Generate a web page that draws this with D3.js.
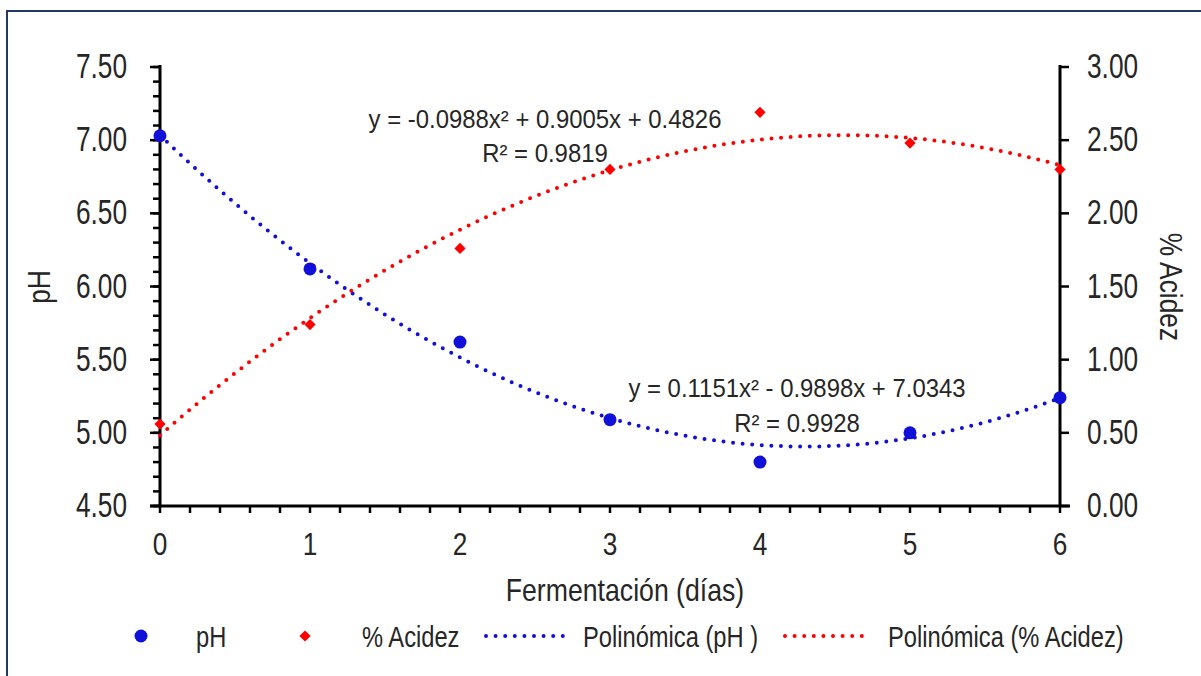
<!DOCTYPE html>
<html>
<head>
<meta charset="utf-8">
<script src="https://cdn.jsdelivr.net/npm/d3@7"></script>
<style>
  body { margin: 0; background: #fff; }
  svg text { font-family: "Liberation Sans Narrow", "Arial Narrow", "Liberation Sans", Arial, sans-serif; fill: #262626; }
</style>
</head>
<body>
<div id="graph"></div>
<script>
// data
var days = [0, 1, 2, 3, 4, 5, 6]
var phValues = [7.03, 6.12, 5.62, 5.09, 4.80, 5.00, 5.24]
var acidValues = [0.56, 1.24, 1.76, 2.30, 2.69, 2.48, 2.30]

// trendline coefficients printed on the chart [a, b, c] for a*x^2 + b*x + c
var phFit = [0.1151, -0.9898, 7.0343]
var acidFit = [-0.0988, 0.9005, 0.4826]
var phLabel = ['y = 0.1151x² - 0.9898x + 7.0343', 'R² = 0.9928']
var acidLabel = ['y = -0.0988x² + 0.9005x + 0.4826', 'R² = 0.9819']

var leftTicks = [4.5, 5, 5.5, 6, 6.5, 7, 7.5]
var rightTicks = [0, 0.5, 1, 1.5, 2, 2.5, 3]

var blue = '#1010d8', red = '#ff0000'

var W = 1201, H = 676
var svg = d3.select('#graph').append('svg').attr('width', W).attr('height', H)

// no narrow font installed, so squeeze the regular one horizontally
function ntext(parent, x, y, str, size, sx, extra){
  return parent.append('text')
    .attr('transform', `translate(${x},${y})` + (extra || '') + ` scale(${sx},1)`)
    .style('font-size', size + 'px')
    .text(str)
}

// outer frame
svg.append('rect').attr('x', 7).attr('y', 11).attr('width', 1200).attr('height', 700)
  .attr('fill', 'none').attr('stroke', '#1f3864').attr('stroke-width', 2)

var x = d3.scaleLinear().domain([0, 6]).range([160, 1060])
var yL = d3.scaleLinear().domain([4.5, 7.5]).range([506, 67])
var yR = d3.scaleLinear().domain([0, 3]).range([506, 67])

var fmt = d3.format('.2f')
var poly = (c, t) => c[0]*t*t + c[1]*t + c[2]

// ticks
var g = svg.append('g').attr('stroke', '#000').attr('stroke-width', 2.5)
g.selectAll('.lm').data(d3.range(45, 76).map(d => d/10)).join('line')
  .attr('x1', 153).attr('x2', 160).attr('y1', d => yL(d)).attr('y2', d => yL(d))
g.selectAll('.lM').data(leftTicks).join('line')
  .attr('x1', 150).attr('x2', 160).attr('y1', d => yL(d)).attr('y2', d => yL(d))
g.selectAll('.xm').data(d3.range(0, 31).map(d => d/5)).join('line')
  .attr('x1', d => x(d)).attr('x2', d => x(d)).attr('y1', 506).attr('y2', 513)
g.selectAll('.rm').data(rightTicks).join('line')
  .attr('x1', 1060).attr('x2', 1069).attr('y1', d => yR(d)).attr('y2', d => yR(d))

// axis lines
var ax = svg.append('g').attr('stroke', '#000').attr('stroke-width', 3)
ax.append('line').attr('x1', 160).attr('x2', 160).attr('y1', 65).attr('y2', 507)
ax.append('line').attr('x1', 1060).attr('x2', 1060).attr('y1', 65).attr('y2', 507)
ax.append('line').attr('x1', 150).attr('x2', 1070).attr('y1', 506).attr('y2', 506)

// tick labels
leftTicks.forEach(d => ntext(svg, 127, yL(d) + 11, fmt(d), 35, 0.75).attr('text-anchor', 'end'))
rightTicks.forEach(d => ntext(svg, 1087, yR(d) + 11, fmt(d), 35, 0.75))
days.forEach(d => ntext(svg, x(d), 555, d, 32, 0.82).attr('text-anchor', 'middle'))

// axis titles
ntext(svg, 50, 287, 'pH', 31, 0.85, ' rotate(-90)').attr('text-anchor', 'middle')
ntext(svg, 1160, 287, '% Acidez', 31, 0.85, ' rotate(90)').attr('text-anchor', 'middle')
ntext(svg, 625, 601, 'Fermentación (días)', 31, 0.86).attr('text-anchor', 'middle')

// trendlines
var ts = d3.range(0, 6.001, 0.02)
var dotted = sel => sel.attr('fill', 'none').attr('stroke-width', 4)
  .attr('stroke-linecap', 'round').attr('stroke-dasharray', '0 9.6')
svg.append('path').datum(ts)
  .attr('d', d3.line().x(t => x(t)).y(t => yL(poly(phFit, t))))
  .attr('stroke', blue).call(dotted)
svg.append('path').datum(ts)
  .attr('d', d3.line().x(t => x(t)).y(t => yR(poly(acidFit, t))))
  .attr('stroke', red).call(dotted)

// markers
svg.selectAll('.ph').data(days).join('circle')
  .attr('cx', d => x(d)).attr('cy', (d, i) => yL(phValues[i])).attr('r', 6.5)
  .attr('fill', blue)
var diamond = d3.symbol().type(d3.symbolDiamond2).size(80)
svg.selectAll('.ac').data(days).join('path')
  .attr('transform', (d, i) => `translate(${x(d)},${yR(acidValues[i])})`)
  .attr('d', diamond).attr('fill', red)

// trendline equations
acidLabel.forEach((d, i) => ntext(svg, 545, 128 + i*34, d, 26, 0.92).attr('text-anchor', 'middle'))
phLabel.forEach((d, i) => ntext(svg, 797, 397 + i*35, d, 26, 0.92).attr('text-anchor', 'middle'))

// legend
var ly = 636
var leg = svg.append('g')
leg.append('circle').attr('cx', 141).attr('cy', ly).attr('r', 6.5).attr('fill', blue)
ntext(leg, 196, ly + 11, 'pH', 30, 0.79)
leg.append('path').attr('transform', `translate(305,${ly})`).attr('d', diamond).attr('fill', red)
ntext(leg, 362, ly + 11, '% Acidez', 30, 0.79)
leg.append('line').attr('x1', 486).attr('x2', 571).attr('y1', ly).attr('y2', ly)
  .attr('stroke', blue).call(dotted)
ntext(leg, 583, ly + 11, 'Polinómica (pH )', 30, 0.79)
leg.append('line').attr('x1', 785).attr('x2', 871).attr('y1', ly).attr('y2', ly)
  .attr('stroke', red).call(dotted)
ntext(leg, 888, ly + 11, 'Polinómica (% Acidez)', 30, 0.79)
</script>
</body>
</html>
